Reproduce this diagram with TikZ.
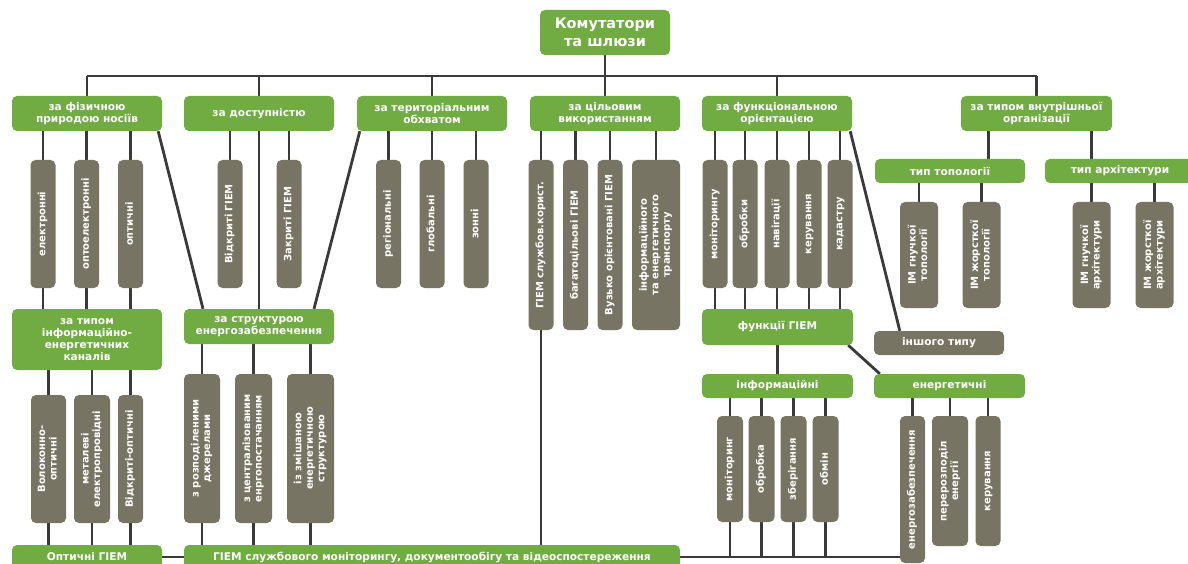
\documentclass[tikz,border=0pt]{standalone}
\usepackage{fontspec}
\setmainfont{DejaVu Sans}
\usetikzlibrary{backgrounds}
\definecolor{catgreen}{RGB}{112,172,66}
\definecolor{itemgrey}{RGB}{120,116,99}
\definecolor{wiregrey}{RGB}{58,58,58}
\newcommand{\vlab}[1]{\rotatebox{90}{\begin{tabular}{@{}c@{}}#1\end{tabular}}}

\begin{document}
\begin{tikzpicture}[x=1pt,y=-1pt,
    font=\fontsize{10}{11.5}\selectfont\bfseries,
    catbox/.style={fill=catgreen, text=white, rounded corners=5pt, inner sep=0pt, align=center, minimum width=150, minimum height=35, font=\fontsize{10.6}{12}\selectfont\bfseries},
    itembox/.style={fill=itemgrey, text=white, rounded corners=5pt, inner sep=0pt, minimum width=25},
    link/.style={draw=wiregrey, line width=2.8pt}]
    \useasboundingbox (0,0) rectangle (1188,564);

    \node[catbox, minimum width=130, minimum height=45, font=\fontsize{14.5}{18}\selectfont\bfseries] (root) at (605,32.5) {Комутатори\\та шлюзи};

    % criteria
    \node[catbox] (c1) at (87,113.5) {за фізичною\\природою носіїв};
    \node[catbox] (c2) at (259,113.5) {за доступністю};
    \node[catbox] (c3) at (432,113.5) {за територіальним\\обхватом};
    \node[catbox] (c4) at (605,113.5) {за цільовим\\використанням};
    \node[catbox] (c5) at (777,113.5) {за функціональною\\орієнтацією};
    \node[catbox, minimum width=151] (c6) at (1036.5,113.5) {за типом внутрішньої\\організації};

    \node[itembox, minimum height=128] (g11) at (43,224) {\vlab{електронні}};
    \node[itembox, minimum height=128] (g12) at (86.5,224) {\vlab{оптоелектронні}};
    \node[itembox, minimum height=128] (g13) at (130.5,224) {\vlab{оптичні}};
    \node[itembox, minimum height=128] (g21) at (230,224) {\vlab{Відкриті ГІЕМ}};
    \node[itembox, minimum height=128] (g22) at (289,224) {\vlab{Закриті ГІЕМ}};
    \node[itembox, minimum height=128] (g31) at (388.5,224) {\vlab{регіональні}};
    \node[itembox, minimum height=128] (g32) at (432,224) {\vlab{глобальні}};
    \node[itembox, minimum height=128] (g33) at (476,224) {\vlab{зонні}};
    \node[itembox, minimum height=170] (g41) at (541,245) {\vlab{ГІЕМ службов.корист.}};
    \node[itembox, minimum height=170] (g42) at (575.5,245) {\vlab{багатоцільові ГІЕМ}};
    \node[itembox, minimum height=170] (g43) at (610,245) {\vlab{Вузько орієнтовані ГІЕМ}};
    \node[itembox, minimum height=170, minimum width=48] (g44) at (656,245) {\vlab{інформаційного\\та енергетичного\\транспорту}};
    \node[itembox, minimum height=128] (g51) at (715,224) {\vlab{моніторингу}};
    \node[itembox, minimum height=128] (g52) at (745,224) {\vlab{обробки}};
    \node[itembox, minimum height=128] (g53) at (777,224) {\vlab{навігації}};
    \node[itembox, minimum height=128] (g54) at (809,224) {\vlab{керування}};
    \node[itembox, minimum height=128] (g55) at (840,224) {\vlab{кадастру}};

    \node[catbox, minimum height=24] (t1) at (950,171) {тип топології};
    \node[catbox, minimum height=24] (t2) at (1120,171) {тип архітектури};
    \node[itembox, minimum width=38, minimum height=106] (im1) at (919,255) {\vlab{ІМ гнучкої\\топології}};
    \node[itembox, minimum width=38, minimum height=106] (im2) at (981.5,255) {\vlab{ІМ жорсткої\\топології}};
    \node[itembox, minimum width=38, minimum height=106] (im3) at (1091.5,255) {\vlab{ІМ гнучкої\\архітектури}};
    \node[itembox, minimum width=38, minimum height=106] (im4) at (1154.5,255) {\vlab{ІМ жорсткої\\архітектури}};

    % second level, left
    \node[catbox, minimum height=61] (c7) at (87,339.5) {за типом\\інформаційно-\\енергетичних\\каналів};
    \node[catbox] (c8) at (259,326.5) {за структурою\\енергозабезпечення};
    \node[itembox, minimum width=35, minimum height=128] (g71) at (48.5,459) {\vlab{Волоконно-\\оптичні}};
    \node[itembox, minimum width=36, minimum height=128] (g72) at (92,459) {\vlab{металеві\\електропровідні}};
    \node[itembox, minimum height=128] (g73) at (130.5,459) {\vlab{Відкриті-оптичні}};
    \node[itembox, minimum width=36, minimum height=149] (g81) at (202,448.5) {\vlab{з розподіленими\\джерелами}};
    \node[itembox, minimum width=37, minimum height=149] (g82) at (253.5,448.5) {\vlab{з централізованим\\енргопостачанням}};
    \node[itembox, minimum width=47, minimum height=149] (g83) at (310.5,448.5) {\vlab{із змішаною\\енергетичною\\структурою}};
    \node[catbox, minimum height=24] (b1) at (87,557) {Оптичні ГІЕМ};
    \node[catbox, minimum width=496, minimum height=24] (b2) at (432,557) {ГІЕМ службового моніторингу, документообігу та відеоспостереження};

    % second level, right
    \node[catbox, minimum width=151, minimum height=36] (f) at (777.5,327) {функції ГІЕМ};
    \node[itembox, minimum width=130, minimum height=24, font=\fontsize{10.6}{12}\selectfont\bfseries] (io) at (939,343) {іншого типу};
    \node[catbox, minimum width=151, minimum height=24] (inf) at (777.5,386) {інформаційні};
    \node[catbox, minimum width=151, minimum height=24] (en) at (949.5,386) {енергетичні};
    \node[itembox, minimum width=26, minimum height=106] (i1) at (730,469) {\vlab{моніторинг}};
    \node[itembox, minimum width=26, minimum height=106] (i2) at (761.5,469) {\vlab{обробка}};
    \node[itembox, minimum width=26, minimum height=106] (i3) at (793.5,469) {\vlab{зберігання}};
    \node[itembox, minimum width=26, minimum height=106] (i4) at (825.5,469) {\vlab{обмін}};
    \node[itembox, minimum height=147] (e1) at (912.5,489.5) {\vlab{енергозабезпечення}};
    \node[itembox, minimum width=36, minimum height=130] (e2) at (950,481) {\vlab{перерозподіл\\енергії}};
    \node[itembox, minimum height=130] (e3) at (988,481) {\vlab{керування}};

    \coordinate (bus) at (605,76);
    \coordinate (tp) at ([xshift=-48]c6.center);
    \coordinate (ta) at ([xshift=55]c6.center);

    \begin{scope}[on background layer]
    \fill[white] (0,0) rectangle (1188,564);
    \draw[link] (root) -- (bus);
    \draw[link] (c1 |- bus) -- (c6 |- bus);
    \draw[link] (c1) -- (c1 |- bus) (c2) -- (c2 |- bus) (c3) -- (c3 |- bus)
        (c4) -- (c4 |- bus) (c5) -- (c5 |- bus) (c6) -- (c6 |- bus);

    \draw[link] (g11 |- c1) -- (g11 |- c7) (g12 |- c1) -- (g12 |- c7) (g13 |- c1) -- (g13 |- c7);
    \draw[link] (g21) -- (g21 |- c2) (g22) -- (g22 |- c2);
    \draw[link] (g31) -- (g31 |- c3) (g32) -- (g32 |- c3) (g33) -- (g33 |- c3);
    \draw[link] (g41 |- c4) -- (g41 |- b2) (g42) -- (g42 |- c4) (g43) -- (g43 |- c4) (g44) -- (g44 |- c4);
    \draw[link] (g51 |- c5) -- (g51 |- f) (g52 |- c5) -- (g52 |- f) (g53 |- c5) -- (g53 |- f)
        (g54 |- c5) -- (g54 |- f) (g55 |- c5) -- (g55 |- f);

    \draw[link] (tp) -- (tp |- t1) (ta) -- (ta |- t2);
    \draw[link] (im1) -- (im1 |- t1) (im2) -- (im2 |- t1) (im3) -- (im3 |- t2) (im4) -- (im4 |- t2);

    \draw[link] (c2) -- (c8);
    \draw[link] ([xshift=-4]c1.south east) -- ([xshift=-56]c8.north);
    \draw[link] ([xshift=3]c3.south west) -- ([xshift=55]c8.north);

    \draw[link] (g71 |- c7) -- (g71 |- b1) (g72 |- c7) -- (g72 |- b1) (g73 |- c7) -- (g73 |- b1);
    \draw[link] (g81 |- c8) -- (g81 |- b2) (g82 |- c8) -- (g82 |- b2) (g83 |- c8) -- (g83 |- b2);
    \draw[link] (b1) -- (b2);
    \draw[link] (b2) -- (b2 -| e1);

    \draw[link] ([xshift=-2]c5.south east) -- ([xshift=26]io.north west);
    \draw[link] (f) -- (inf);
    \draw[link] ([xshift=-5]f.south east) -- ([xshift=6]en.north west);
    \draw[link] (i1 |- inf) -- (i1 |- b2) (i2 |- inf) -- (i2 |- b2) (i3 |- inf) -- (i3 |- b2) (i4 |- inf) -- (i4 |- b2);
    \draw[link] (e1) -- (e1 |- en) (e2) -- (e2 |- en) (e3) -- (e3 |- en);
    \end{scope}
\end{tikzpicture}
\end{document}
